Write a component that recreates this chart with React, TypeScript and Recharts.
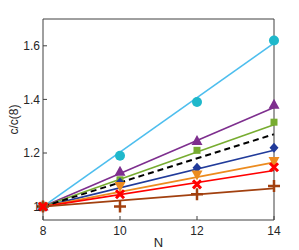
import { ComposedChart, Line, Scatter, XAxis, YAxis } from 'recharts'

// N values
const sampleN = [8, 10, 12, 14]
const fitN = [8, 14]

// c/c(8) measured points and linear fits
const cyanPts = [1.0, 1.19, 1.39, 1.62]
const cyanFit = [1.0, 1.61]
const purplePts = [1.0, 1.13, 1.245, 1.38]
const purpleFit = [1.0, 1.37]
const greenPts = [1.0, 1.1, 1.21, 1.315]
const greenFit = [1.0, 1.305]
const dashedFit = [1.0, 1.27]
const bluePts = [1.0, 1.09, 1.145, 1.22]
const blueFit = [1.0, 1.21]
const orangePts = [1.0, 1.077, 1.12, 1.17]
const orangeFit = [1.0, 1.165]
const redPts = [1.0, 1.046, 1.083, 1.147]
const redFit = [1.0, 1.135]
const brownPts = [1.0, 1.0, 1.046, 1.077]
const brownFit = [1.0, 1.068]

const xTicks = [8, 10, 12, 14]
const yTicks = [1.0, 1.2, 1.4, 1.6]

const rows = (xs: number[], ys: number[]) => xs.map((n, i) => ({ n, v: ys[i] }))

const FONT = '"Liberation Sans", Arial, sans-serif'
const AXIS = '#404040'

const circle = (fill: string) => (p: any) => <circle cx={p.cx} cy={p.cy} r={5} fill={fill} />
const triUp = (fill: string) => (p: any) => (
  <polygon points={`${p.cx},${p.cy - 6} ${p.cx + 5.5},${p.cy + 4} ${p.cx - 5.5},${p.cy + 4}`} fill={fill} />
)
const triDown = (fill: string) => (p: any) => (
  <polygon points={`${p.cx},${p.cy + 6} ${p.cx + 5.5},${p.cy - 4} ${p.cx - 5.5},${p.cy - 4}`} fill={fill} />
)
const square = (fill: string) => (p: any) => <rect x={p.cx - 3.5} y={p.cy - 3.5} width={7} height={7} fill={fill} />
const diamond = (fill: string) => (p: any) => (
  <polygon points={`${p.cx},${p.cy - 5} ${p.cx + 4.5},${p.cy} ${p.cx},${p.cy + 5} ${p.cx - 4.5},${p.cy}`} fill={fill} />
)
const xMark = (stroke: string) => (p: any) => (
  <path d={`M${p.cx - 4},${p.cy - 4}L${p.cx + 4},${p.cy + 4}M${p.cx - 4},${p.cy + 4}L${p.cx + 4},${p.cy - 4}`} stroke={stroke} strokeWidth={3} />
)
const plus = (stroke: string) => (p: any) => (
  <path d={`M${p.cx - 6},${p.cy}L${p.cx + 6},${p.cy}M${p.cx},${p.cy - 6}L${p.cx},${p.cy + 6}`} stroke={stroke} strokeWidth={2.5} />
)

const fits = [
  { data: cyanFit, color: '#4DBEEE' },
  { data: purpleFit, color: '#7E2F8E' },
  { data: greenFit, color: '#77AC30' },
  { data: blueFit, color: '#213B9A' },
  { data: orangeFit, color: '#EC8B1F' },
  { data: redFit, color: '#FF0000' },
  { data: brownFit, color: '#A2400F' },
]

const points = [
  { data: cyanPts, shape: circle('#1FB8CB') },
  { data: purplePts, shape: triUp('#7E2F8E') },
  { data: greenPts, shape: square('#77AC30') },
  { data: bluePts, shape: diamond('#213B9A') },
  { data: orangePts, shape: triDown('#EC8B1F') },
  { data: brownPts, shape: plus('#A2400F') },
  { data: redPts, shape: xMark('#FF0000') },
]

export default function App() {
  return (
    <div style={{ position: 'absolute', left: 0, top: 0 }}>
      <ComposedChart width={299} height={250} margin={{ top: 19, right: 25, bottom: 0, left: 0 }}>
        <XAxis
          xAxisId="b"
          dataKey="n"
          type="number"
          domain={[8, 14]}
          ticks={xTicks}
          height={30}
          tickSize={-4}
          tickMargin={10}
          stroke={AXIS}
          tick={{ fill: '#262626', fontSize: 12, fontFamily: FONT }}
          label={{ value: 'N', position: 'insideBottom', offset: 3, fill: '#262626', fontSize: 13, fontFamily: FONT }}
        />
        <XAxis
          xAxisId="t"
          dataKey="n"
          type="number"
          orientation="top"
          domain={[8, 14]}
          ticks={xTicks}
          mirror
          tick={false}
          tickSize={4}
          stroke={AXIS}
        />
        <YAxis
          yAxisId="l"
          type="number"
          domain={[0.95, 1.7]}
          ticks={yTicks}
          width={43}
          tickSize={-4}
          tickMargin={7}
          allowDataOverflow
          stroke={AXIS}
          tickFormatter={(v: number) => (v === 1 ? '1' : v.toFixed(1))}
          tick={{ fill: '#262626', fontSize: 12, fontFamily: FONT }}
          label={{ value: 'c/c(8)', angle: -90, position: 'center', dx: -8, fill: '#262626', fontSize: 12, fontFamily: FONT }}
        />
        <YAxis
          yAxisId="r"
          type="number"
          orientation="right"
          domain={[0.95, 1.7]}
          ticks={yTicks}
          mirror
          tick={false}
          tickSize={4}
          stroke={AXIS}
        />
        {fits.map((f, i) => (
          <Line
            key={`fit${i}`}
            xAxisId="b"
            yAxisId="l"
            data={rows(fitN, f.data)}
            dataKey="v"
            stroke={f.color}
            strokeWidth={1.6}
            dot={false}
            isAnimationActive={false}
          />
        ))}
        <Line
          xAxisId="b"
          yAxisId="l"
          data={rows(fitN, dashedFit)}
          dataKey="v"
          stroke="#000000"
          strokeWidth={2}
          strokeDasharray="6 4"
          dot={false}
          isAnimationActive={false}
        />
        {points.map((s, i) => (
          <Scatter
            key={`pts${i}`}
            xAxisId="b"
            yAxisId="l"
            data={rows(sampleN, s.data)}
            dataKey="v"
            shape={s.shape}
            isAnimationActive={false}
          />
        ))}
      </ComposedChart>
    </div>
  )
}
